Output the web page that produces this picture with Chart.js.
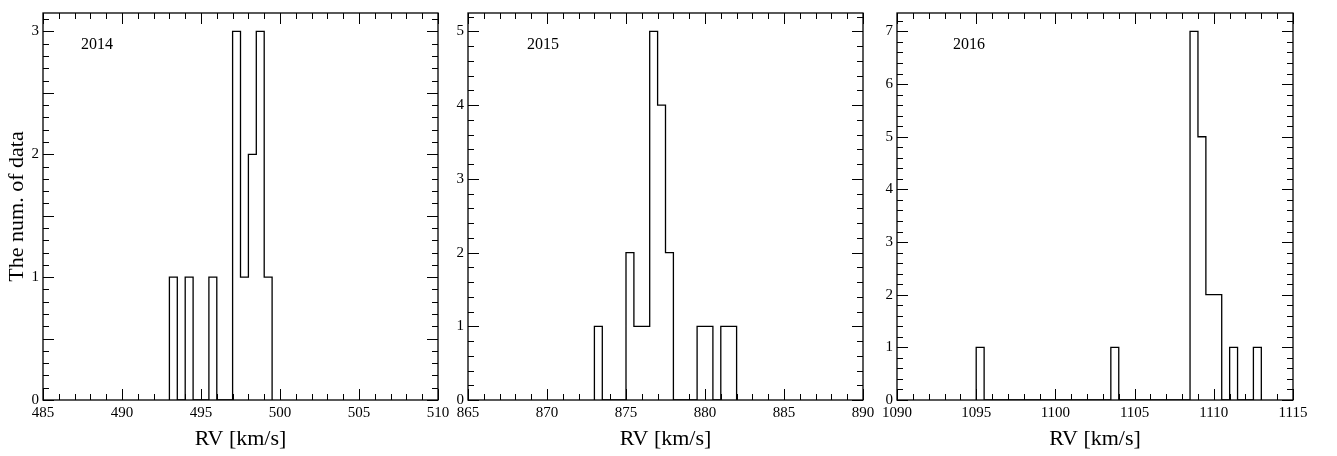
<!DOCTYPE html>
<html>
<head>
<meta charset="utf-8">
<script src="https://cdn.jsdelivr.net/npm/chart.js@4.4.0/dist/chart.umd.min.js"></script>
<style>
  body { margin: 0; background: #fff; }
  #wrap { position: relative; width: 1337px; height: 456px; }
  canvas { position: absolute; top: 0; }
</style>
</head>
<body>
<div id="wrap">
  <canvas id="rv2014" width="460" height="456" style="left:0"></canvas>
  <canvas id="rv2015" width="440" height="456" style="left:440px"></canvas>
  <canvas id="rv2016" width="467" height="456" style="left:870px"></canvas>
</div>
<script>
// histogram bins: lower edge of each filled bin (km/s) and its count
const binWidth = 0.5;

const rvBins2014 = [493.0, 494.0, 495.5, 497.0, 497.5, 498.0, 498.5, 499.0];
const counts2014 = [1, 1, 1, 3, 1, 2, 3, 1];

const rvBins2015 = [873.0, 875.0, 875.5, 876.0, 876.5, 877.0, 877.5, 879.5, 880.0, 881.0, 881.5];
const counts2015 = [1, 2, 1, 1, 5, 4, 2, 1, 1, 1, 1];

const rvBins2016 = [1095.0, 1103.5, 1108.5, 1109.0, 1109.5, 1110.0, 1111.0, 1112.5];
const counts2016 = [1, 1, 7, 5, 2, 2, 1, 1];

const xRange2014 = [485, 510];
const xRange2015 = [865, 890];
const xRange2016 = [1090, 1115];

const serif = '"Liberation Serif", "Times New Roman", serif';

// turn bins into outline points for a stepped line
function stepPoints(bins, counts) {
    const pts = [{ x: bins[0], y: 0 }];
    bins.forEach((lo, i) => {
        pts.push({ x: lo, y: counts[i] });
        const hi = lo + binWidth;
        if (i === bins.length - 1 || Math.abs(bins[i + 1] - hi) > 1e-6) {
            pts.push({ x: hi, y: 0 });
        }
    });
    return pts;
}

// box frame with inward ticks on all four sides, plus the year tag
const frameTicks = {
    id: 'frameTicks',
    afterDatasetsDraw(chart, args, opts) {
        const { ctx, chartArea: a, scales: { x, y } } = chart;
        ctx.save();
        ctx.strokeStyle = '#000';
        ctx.lineWidth = 1;

        const marks = (min, max, minor, major, draw) => {
            const n = Math.floor((max - min) / minor + 1e-6);
            for (let i = 0; i <= n; i++) {
                const v = min + i * minor;
                const r = v / major;
                draw(v, Math.abs(r - Math.round(r)) < 1e-6 ? 11 : 6);
            }
        };

        ctx.beginPath();
        marks(x.min, x.max, 1, 5, (v, len) => {
            const px = Math.round(x.getPixelForValue(v)) + 0.5;
            ctx.moveTo(px, a.bottom);
            ctx.lineTo(px, a.bottom - len);
            ctx.moveTo(px, a.top);
            ctx.lineTo(px, a.top + len);
        });
        marks(0, y.max, opts.minor, opts.major, (v, len) => {
            const py = Math.round(y.getPixelForValue(v)) + 0.5;
            ctx.moveTo(a.left, py);
            ctx.lineTo(a.left + len, py);
            ctx.moveTo(a.right, py);
            ctx.lineTo(a.right - len, py);
        });
        ctx.stroke();

        ctx.lineWidth = 1.3;
        ctx.strokeRect(a.left, a.top, a.right - a.left, a.bottom - a.top);

        ctx.fillStyle = '#000';
        ctx.font = '16px ' + serif;
        ctx.textBaseline = 'middle';
        ctx.fillText(opts.label, a.left + opts.labelDx, 45);
        ctx.restore();
    }
};

function makePanel(id, bins, counts, xRange, opts) {
    const yMax = Math.max(...counts) * 1.05;
    return new Chart(document.getElementById(id), {
        type: 'line',
        data: {
            datasets: [{
                data: stepPoints(bins, counts),
                stepped: true,
                borderColor: '#000',
                borderWidth: 1.3,
                pointRadius: 0,
                fill: false
            }]
        },
        options: {
            responsive: false,
            animation: false,
            events: [],
            layout: { padding: { top: 4, right: opts.padRight, left: 0, bottom: 0 } },
            plugins: {
                legend: { display: false },
                tooltip: { enabled: false },
                frameTicks: { minor: opts.yMinor, major: opts.yMajor, label: opts.label, labelDx: opts.labelDx }
            },
            scales: {
                x: {
                    type: 'linear',
                    min: xRange[0],
                    max: xRange[1],
                    grid: { display: false, drawTicks: false },
                    border: { display: false },
                    ticks: {
                        stepSize: 5,
                        padding: 4,
                        maxRotation: 0,
                        autoSkip: false,
                        color: '#000',
                        font: { family: serif, size: 15 },
                        callback: v => String(v)
                    },
                    title: {
                        display: true,
                        text: 'RV [km/s]',
                        color: '#000',
                        font: { family: serif, size: 22 },
                        padding: { top: 0, bottom: 4 }
                    },
                    afterFit(s) { s.height = 56; }
                },
                y: {
                    min: 0,
                    max: yMax,
                    grid: { display: false, drawTicks: false },
                    border: { display: false },
                    ticks: {
                        stepSize: 1,
                        padding: 4,
                        color: '#000',
                        font: { family: serif, size: 15 },
                        callback: v => String(v)
                    },
                    afterBuildTicks(s) {
                        s.ticks = s.ticks.filter(t => Number.isInteger(t.value));
                    },
                    title: {
                        display: opts.yTitle,
                        text: 'The num. of data',
                        color: '#000',
                        font: { family: serif, size: 22 },
                        padding: { top: 4, bottom: 0 }
                    },
                    afterFit(s) { s.width = opts.yWidth; }
                }
            }
        },
        plugins: [frameTicks]
    });
}

makePanel('rv2014', rvBins2014, counts2014, xRange2014,
    { yMajor: 0.5, yMinor: 0.1, label: '2014', labelDx: 38, yTitle: true, yWidth: 43, padRight: 22 });
makePanel('rv2015', rvBins2015, counts2015, xRange2015,
    { yMajor: 1, yMinor: 0.2, label: '2015', labelDx: 59, yTitle: false, yWidth: 28, padRight: 17 });
makePanel('rv2016', rvBins2016, counts2016, xRange2016,
    { yMajor: 1, yMinor: 0.2, label: '2016', labelDx: 56, yTitle: false, yWidth: 27, padRight: 44 });
</script>
</body>
</html>
